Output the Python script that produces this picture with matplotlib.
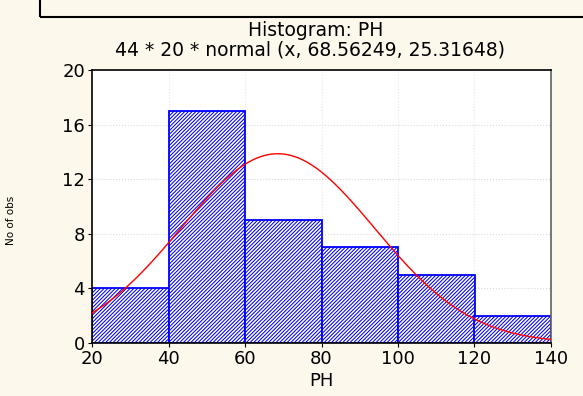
import numpy as np
import matplotlib.pyplot as plt
from matplotlib.patches import Rectangle
import matplotlib

matplotlib.rcParams["font.family"] = "DejaVu Sans"
matplotlib.rcParams["hatch.linewidth"] = 0.75
matplotlib.rcParams["hatch.color"] = "#2020ff"

# histogram data
bin_edges = [20, 40, 60, 80, 100, 120, 140]
counts = [4, 17, 9, 7, 5, 2]
n_obs = 44
bin_width = 20
mu = 68.56249
sigma = 25.31648
x_ticks = [20, 40, 60, 80, 100, 120, 140]
y_ticks = [0, 4, 8, 12, 16, 20]

bg = "#fdf8ec"

fig = plt.figure(figsize=(5.83, 3.96), dpi=100, facecolor=bg)
ax = fig.add_axes([92 / 583, 1 - 343 / 396, (551 - 92) / 583, (343 - 70) / 396])
ax.set_facecolor("white")

# bars
lefts = np.array(bin_edges[:-1])
ax.bar(lefts, counts, width=bin_width, align="edge", facecolor="white",
       edgecolor="#0000ff", linewidth=1.3, hatch="/////////", zorder=2)

# fitted normal curve scaled to counts
xs = np.linspace(20, 140, 400)
pdf = np.exp(-0.5 * ((xs - mu) / sigma) ** 2) / (sigma * np.sqrt(2 * np.pi))
ax.plot(xs, n_obs * bin_width * pdf, color="#ff0000", linewidth=1.0, zorder=3)

# grid
for y in y_ticks[1:-1]:
    ax.axhline(y, color="#d8d8d8", linestyle=":", linewidth=0.8, zorder=1)
for x in x_ticks[1:-1]:
    ax.axvline(x, color="#e6e6e6", linestyle=":", linewidth=0.8, zorder=1)

ax.set_xlim(20, 140)
ax.set_ylim(0, 20)
ax.set_xticks(x_ticks)
ax.set_yticks(y_ticks)
ax.tick_params(labelsize=13, length=3, width=0.8, pad=2)
for sp in ax.spines.values():
    sp.set_linewidth(1.2)
    sp.set_color("black")
ax.spines["right"].set_color("#606060")

ax.set_xlabel("PH", fontsize=13, labelpad=3)
ax.set_ylabel("No of obs", fontsize=7.5)
ax.yaxis.set_label_coords(-0.165, 0.45)

# titles
fig.text(316 / 583, 1 - 30 / 396, "Histogram: PH", ha="center", va="center", fontsize=13.5)
fig.text(310 / 583, 1 - 50 / 396, "44 * 20 * normal (x, 68.56249, 25.31648)",
         ha="center", va="center", fontsize=13.5)

# frame at top edge
fig.patches.append(Rectangle((40 / 583, 1 - 17 / 396), 0.99, 0.2, transform=fig.transFigure,
                             facecolor="none", edgecolor="black", linewidth=1.5))

fig.savefig("out.png", dpi=100, facecolor=bg)
